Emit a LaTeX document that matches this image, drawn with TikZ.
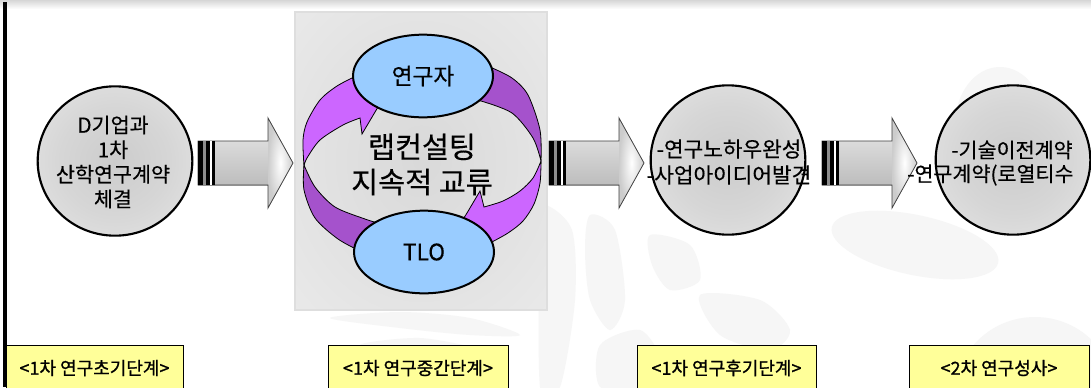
\documentclass[tikz,border=0pt]{standalone}
\usepackage{fontspec}
\setmainfont{Noto Sans CJK KR}[FakeBold=0.35]
\newfontfamily\labelfont{Noto Sans CJK KR}[FakeBold=1.1]
\usetikzlibrary{shapes.geometric}
\definecolor{lpurple}{HTML}{CC66FF}
\definecolor{dpurple}{HTML}{A552CC}
\definecolor{lblue}{HTML}{99CCFF}
\definecolor{lyellow}{HTML}{FFFF99}
\definecolor{wmgray}{HTML}{F6F6F6}
\pgfdeclareradialshading{discshade}{\pgfpoint{0bp}{0bp}}{color(0bp)=(black!20); color(18bp)=(black!16); color(50bp)=(black!5)}
\pgfdeclareradialshading{boxshade}{\pgfpoint{0bp}{0bp}}{color(0bp)=(black!15); color(28bp)=(black!10); color(50bp)=(black!6); color(75bp)=(black!6)}
\newcommand{\bigarrow}[2]{%
  \begin{scope}[shift={(#1,163)}]
    \coordinate (#2-tail) at (0,0);
    \coordinate (#2-tip) at (95,0);
    \shade[top color=black!14, middle color=white, bottom color=black!26] (0,-22) rectangle (71,22);
    \shade[inner color=white, outer color=black!20] (70,-22) -- (70,-45) -- (95,0) -- (70,45) -- (70,22) -- cycle;
    \draw[black!75, line width=0.6pt] (0,-22) -- (70,-22) -- (70,-45) -- (95,0) -- (70,45) -- (70,22) -- (0,22) -- cycle;
    \fill[black] (0,-22) rectangle (5,22);
    \fill[black!45] (5,-22) rectangle (8,22);
    \fill[black] (8,-22) rectangle (12,22);
    \fill[white] (12,-22) rectangle (14,22);
    \fill[black] (14,-22) rectangle (17,22);
  \end{scope}}
\begin{document}
\begin{tikzpicture}[x=0.75pt, y=-0.75pt,
  stage/.style={ellipse, draw=black, line width=1.6pt, shade, shading=discshade,
    minimum width=116pt, minimum height=112pt, inner sep=0pt},
  stagetext/.style={align=center, inner sep=0pt, font=\fontsize{15.5pt}{18.5pt}\selectfont},
  role/.style={ellipse, draw=black, line width=1.5pt, fill=lblue, minimum width=105pt,
    minimum height=62pt, inner sep=0pt, font=\fontsize{17pt}{20pt}\selectfont},
  bigtext/.style={align=center, inner sep=0pt, font=\fontsize{22pt}{26.3pt}\selectfont},
  phase/.style={draw=black, line width=0.6pt, fill=lyellow, minimum height=34.5pt, inner sep=0pt,
    font=\labelfont\fontsize{13.5pt}{16pt}\selectfont},
  ringlight/.style={fill=lpurple, draw=black, line width=0.6pt},
  ringdark/.style={fill=dpurple, draw=black, line width=0.6pt},
  wm/.style={fill=wmgray, draw=none}]
\useasboundingbox (0,0) rectangle (1091,387);
\clip (0,0) rectangle (1091,387);
\fill[white] (0,0) rectangle (1091,387);
% faint watermark
\fill[wm, rotate around={-12:(915,245)}] (915,245) ellipse [x radius=85, y radius=30];
\fill[wm] (1000,125) ellipse [x radius=45, y radius=58];
\fill[wm] (1035,395) ellipse [x radius=80, y radius=78];
\fill[wm] plot[smooth cycle] coordinates {(545,205) (572,230) (575,300) (560,387) (540,387) (540,230)};
\fill[wm] plot[smooth cycle] coordinates {(590,215) (615,230) (625,300) (610,330) (590,300) (585,250)};
\fill[wm] plot[smooth cycle] coordinates {(650,235) (690,245) (700,280) (670,290) (652,265)};
\fill[wm] plot[smooth cycle] coordinates {(700,295) (760,300) (790,330) (770,350) (720,335)};
\fill[wm] plot[smooth cycle] coordinates {(600,345) (640,330) (660,360) (640,387) (600,387)};
\fill[wm] plot[smooth cycle] coordinates {(330,318) (400,312) (470,318) (520,335) (470,335) (400,328)};
\fill[wm] plot[smooth cycle] coordinates {(360,345) (420,338) (480,350) (430,355)};
% top shadow and left rule
\shade[top color=black!16, bottom color=white] (0,0) rectangle (1091,9);
\fill[black] (3,2) rectangle (7,387);
% middle panel
\node[draw=black!13, line width=0.8pt, shade, shading=boxshade, minimum width=189pt,
  minimum height=223.5pt, inner sep=0pt] (mid) at (421,161) {};
% circular arrows
\filldraw[ringdark] plot[smooth] coordinates {(304,165) (304,190) (315,218) (338,239) (362,252)}
  -- (385,242) -- (378,223) -- plot[smooth] coordinates {(378,223) (365,219) (335,207) (315,187) (304,165)} -- cycle;
\filldraw[ringlight] plot[smooth] coordinates {(304,166) (303,140) (307,122) (320,100) (337,86) (358,75)}
  -- (395,80) -- (387,93) -- (378,107) -- (362,134) -- (360,118)
  -- plot[smooth] coordinates {(360,118) (343,125) (320,140) (307,158) (304,166)} -- cycle;
\filldraw[ringdark] plot[smooth] coordinates {(541,161) (540,130) (528,95) (512,78) (490,67)}
  -- (470,80) -- (472,100) -- plot[smooth] coordinates {(481,101) (512,113) (533,138) (541,161)} -- cycle;
\filldraw[ringlight] plot[smooth] coordinates {(541,161) (540,183) (534,204) (523,221) (508,233) (490,243)}
  -- (460,245) -- (455,232) -- (467,213) -- (480,191) -- (484,207)
  -- plot[smooth] coordinates {(484,207) (503,201) (520,191) (533,178) (541,161)} -- cycle;
\node[role] (res) at (423,76) {연구자};
\node[role] (tlo) at (424,252) {TLO};
\node[bigtext] (lab) at (422,164.5) {랩컨설팅\\지속적 교류};
% block arrows
\bigarrow{198}{a1}
\bigarrow{549}{a2}
\bigarrow{822}{a3}
% stage circles
\node[stage] (s1) at (115,161) {};
\node[stagetext] (t1) at (113,162) {D기업과\\1차\\산학연구계약\\체결};
\node[stage] (s3) at (728,160) {};
\node[stagetext, font=\fontsize{16pt}{19.5pt}\selectfont] (t3) at (729,162) {-연구노하우완성\\-사업아이디어발견};
\node[stage] (s4) at (1013,160) {};
\node[stagetext, font=\fontsize{15.5pt}{19pt}\selectfont] (t4a) at (1012,150) {-기술이전계약};
\node[stagetext, font=\fontsize{15.5pt}{19pt}\selectfont, anchor=west] (t4b) at (907,175) {-연구계약(로열티수};
% phase labels
\node[phase, minimum width=132.75pt] (p1) at (94.5,368) {<1차 연구초기단계>};
\node[phase, minimum width=135pt] (p2) at (418,368) {<1차 연구중간단계>};
\node[phase, minimum width=134.25pt] (p3) at (726.5,368) {<1차 연구후기단계>};
\node[phase, minimum width=135pt] (p4) at (999,368) {<2차 연구성사>};
\end{tikzpicture}
\end{document}
